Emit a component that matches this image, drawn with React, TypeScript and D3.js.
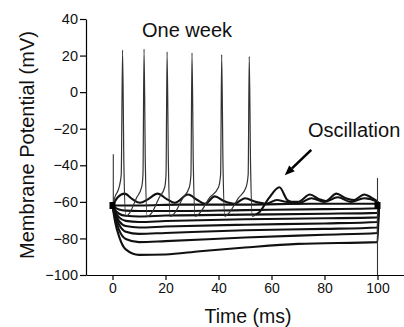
import React, { useEffect, useRef } from "react";
import * as d3 from "d3";

// axis ticks
const xTicks = [0, 20, 40, 60, 80, 100];
const yTicks = [40, 20, 0, -20, -40, -60, -80, -100];

// hyperpolarizing current steps (time ms, mV)
const hyp1 = [[0, -62], [1, -63.2], [2.5, -64.2], [5, -64.8], [10, -65], [20, -65], [50, -64.5], [80, -64], [100, -63.5], [100.5, -62]];
const hyp2 = [[0, -62], [1, -64.5], [2.5, -66.5], [5, -67.6], [10, -68], [20, -67.5], [50, -67], [80, -66.5], [100, -66], [100.5, -62]];
const hyp3 = [[0, -62], [1, -65.5], [2.5, -68.5], [5, -70.4], [10, -71], [20, -70.5], [50, -69.5], [80, -69], [100, -68.5], [100.5, -62]];
const hyp4 = [[0, -62], [1, -66.5], [2.5, -70.5], [5, -73.2], [10, -74], [20, -73.5], [50, -72.5], [80, -71.8], [100, -71], [100.5, -62]];
const hyp5 = [[0, -62], [1, -67.5], [2.5, -72.5], [5, -76.3], [10, -77.5], [20, -77], [50, -75.5], [80, -74.8], [100, -74], [100.5, -62]];
const hyp6 = [[0, -62], [1, -69], [2.5, -75.5], [5, -80.3], [10, -82], [20, -81.5], [50, -79.5], [80, -78], [100, -77], [100.5, -62]];
const hyp7 = [[0, -62], [1, -71], [2.5, -79], [5, -86], [10, -89], [20, -88.8], [33, -87], [50, -85], [70, -83], [100, -82], [100.5, -62]];

// resting and subthreshold oscillating traces
const restTrace = [[0, -62], [10, -62], [25, -61.5], [50, -61.5], [75, -61], [100, -61], [100.5, -62]];
const oscTrace = [[0, -62], [2, -57.5], [4.6, -55.5], [7.5, -58.5], [10.3, -60.5], [13.5, -58.5], [17, -55.5], [20.5, -58.5], [23.5, -60.5], [28.5, -56], [32, -59], [35, -61], [38.6, -57], [42, -59.5], [46, -61], [50, -58], [54, -60], [58, -61], [62, -59], [66, -60], [70, -60], [74.5, -56], [78, -58.5], [80.5, -59.5], [84.5, -55.5], [88, -58], [91, -59], [95, -56], [98, -58], [100, -60], [100.5, -62]];

// spiking trace (spikes), then its subthreshold tail with the oscillation
const spikeTrace = [[0, -62], [1, -57], [2.5, -52], [3.3, -45], [3.8, 23], [4.3, -40], [5, -68], [6.5, -66], [9, -58], [11, -52], [11.5, -45], [11.9, 23.5], [12.4, -40], [13.1, -68], [14.8, -66], [17.5, -58], [19.7, -52], [20.2, -45], [20.6, 22], [21.1, -40], [21.8, -68], [23.5, -66], [26.5, -58], [29, -52], [29.6, -45], [30, 21.5], [30.5, -40], [31.2, -68], [33, -66], [36.5, -58], [40, -52], [40.8, -45], [41.2, 20.5], [41.7, -40], [42.4, -68], [44, -66], [47.5, -58], [50.4, -52], [51.2, -45], [51.6, 19.5], [52.1, -40], [52.8, -68], [54, -67]];
const spikeTail = [[54, -67], [55.5, -65.5], [59, -58], [63, -52], [66, -59], [70, -61], [75, -58], [80, -60], [85, -57.5], [90, -60], [95, -58], [100, -60], [100.5, -62]];

// stimulus artifacts and holding markers
const onArtifact = [[0.3, -62], [0.3, -34]];
const offArtifact = [[100, -47], [100, -100]];
const holdMarks = [[0, -62], [100, -62]];

// arrow (data coords): from, to
const arrowFrom = [75, -31.6];
const arrowTo = [65, -45.5];

const W = 404;
const H = 327;
const FONT = "'Liberation Sans', Arial, sans-serif";

function Chart() {
  const svgRef = useRef<SVGSVGElement>(null);

  useEffect(() => {
    const svg = d3.select(svgRef.current);
    svg.selectAll("*").remove();

    const x = d3.scaleLinear().domain([-10, 110]).range([86, 404]);
    const y = d3.scaleLinear().domain([-100, 40]).range([275, 19]);

    const line = d3
      .line<number[]>()
      .x(d => x(d[0]))
      .y(d => y(d[1]))
      .curve(d3.curveMonotoneX);
    const straight = d3
      .line<number[]>()
      .x(d => x(d[0]))
      .y(d => y(d[1]));

    // axes
    const xAxis = svg
      .append("g")
      .attr("transform", `translate(0,${y(-100)})`)
      .call(d3.axisBottom(x).tickValues(xTicks).tickSize(5).tickSizeOuter(0).tickPadding(3));
    const yAxis = svg
      .append("g")
      .attr("transform", `translate(${x(-10)},0)`)
      .call(d3.axisLeft(y).tickValues(yTicks).tickSize(6).tickSizeOuter(0).tickPadding(2));
    [xAxis, yAxis].forEach(a => {
      a.select(".domain").attr("stroke", "#000").attr("stroke-width", 1.2);
      a.selectAll(".tick line").attr("stroke", "#000").attr("stroke-width", 1.2);
      a.selectAll(".tick text").attr("fill", "#111").style("font-family", FONT);
    });
    xAxis.selectAll(".tick text").style("font-size", "14px");
    yAxis.selectAll(".tick text").style("font-size", "14.5px");

    // traces
    const thick = [hyp1, hyp2, hyp3, hyp4, hyp5, hyp6, hyp7, restTrace, oscTrace, spikeTail];
    svg
      .append("g")
      .selectAll("path")
      .data(thick)
      .join("path")
      .attr("d", d => line(d))
      .attr("fill", "none")
      .attr("stroke", "#111")
      .attr("stroke-width", 2.1);

    svg
      .append("path")
      .attr("d", line(spikeTrace))
      .attr("fill", "none")
      .attr("stroke", "#333")
      .attr("stroke-width", 1.2);

    svg
      .append("g")
      .selectAll("path")
      .data([onArtifact, offArtifact])
      .join("path")
      .attr("d", d => straight(d))
      .attr("stroke", "#333")
      .attr("stroke-width", 1.1);

    svg
      .append("g")
      .selectAll("rect")
      .data(holdMarks)
      .join("rect")
      .attr("x", d => x(d[0]) - 3)
      .attr("y", d => y(d[1]) - 3.5)
      .attr("width", 6)
      .attr("height", 7)
      .attr("fill", "#000");

    // arrow
    const ax1 = x(arrowFrom[0]);
    const ay1 = y(arrowFrom[1]);
    const ax2 = x(arrowTo[0]);
    const ay2 = y(arrowTo[1]);
    const ang = Math.atan2(ay2 - ay1, ax2 - ax1);
    const hl = 10;
    const hw = 4;
    const bx = ax2 - hl * Math.cos(ang);
    const by = ay2 - hl * Math.sin(ang);
    svg
      .append("line")
      .attr("x1", ax1)
      .attr("y1", ay1)
      .attr("x2", bx)
      .attr("y2", by)
      .attr("stroke", "#000")
      .attr("stroke-width", 2.6);
    svg
      .append("path")
      .attr(
        "d",
        `M${ax2},${ay2}L${bx + hw * Math.sin(ang)},${by - hw * Math.cos(ang)}L${bx - hw * Math.sin(ang)},${by + hw * Math.cos(ang)}Z`
      )
      .attr("fill", "#000");

    // labels
    svg
      .append("text")
      .attr("x", 142)
      .attr("y", 37)
      .style("font-family", FONT)
      .style("font-size", "20px")
      .attr("fill", "#111")
      .text("One week");
    svg
      .append("text")
      .attr("x", 308)
      .attr("y", 137)
      .style("font-family", FONT)
      .style("font-size", "20px")
      .attr("fill", "#111")
      .text("Oscillation");
    svg
      .append("text")
      .attr("x", 248)
      .attr("y", 323)
      .attr("text-anchor", "middle")
      .style("font-family", FONT)
      .style("font-size", "19.5px")
      .attr("fill", "#111")
      .text("Time (ms)");
    svg
      .append("text")
      .attr("transform", `translate(34,145) rotate(-90)`)
      .attr("text-anchor", "middle")
      .style("font-family", FONT)
      .style("font-size", "20px")
      .attr("fill", "#111")
      .text("Membrane Potential (mV)");
  }, []);

  return <svg ref={svgRef} width={W} height={H} style={{ position: "absolute", left: 0, top: 0, background: "#fff" }} />;
}

export default function App() {
  return <Chart />;
}
